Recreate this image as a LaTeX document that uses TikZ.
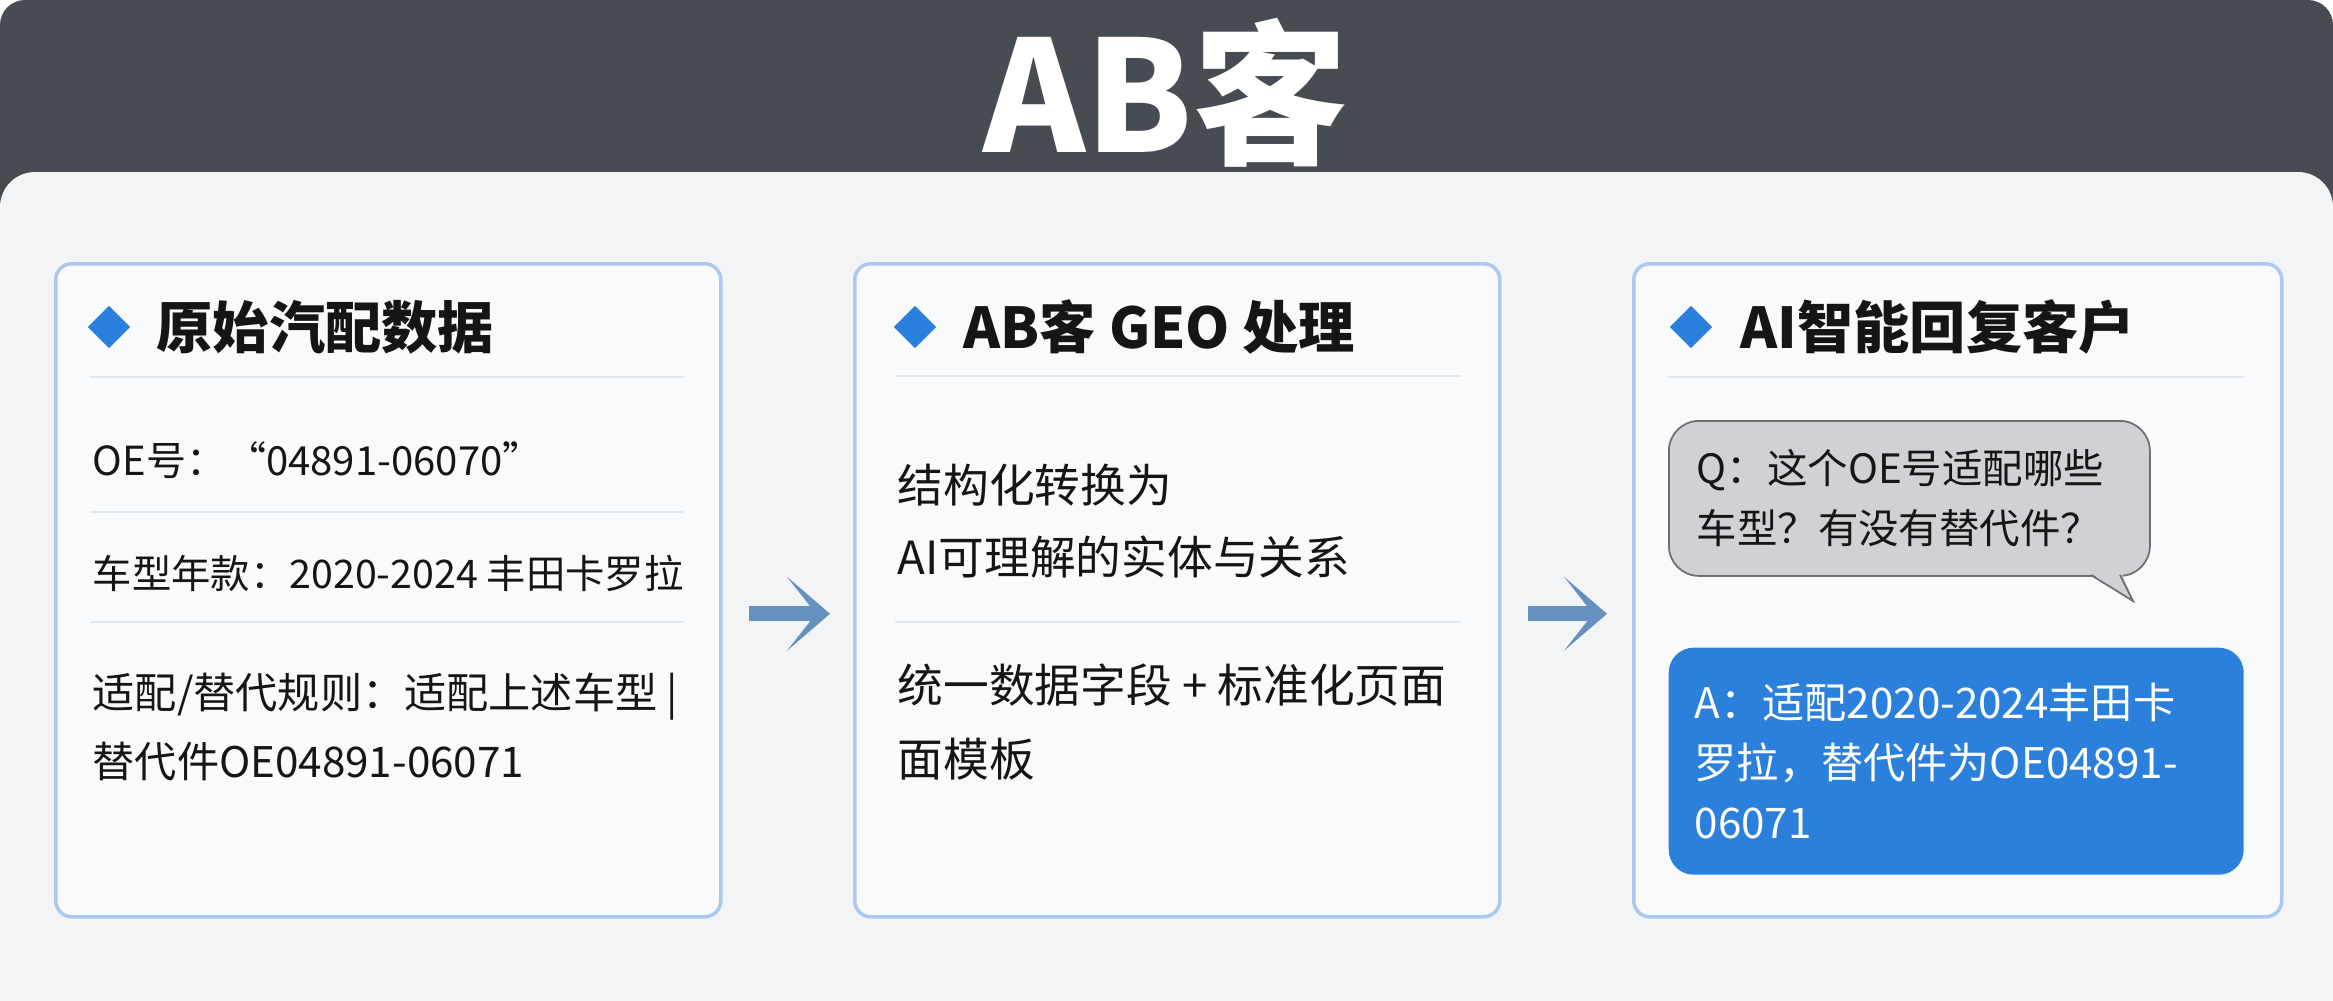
\documentclass[tikz,border=0pt]{standalone}
\usepackage{fontspec}
\setmainfont{Noto Sans CJK SC}
\usetikzlibrary{arrows.meta,positioning,shapes.geometric}

\definecolor{headgray}{HTML}{474B52}
\definecolor{panelgray}{HTML}{F3F4F5}
\definecolor{cardfill}{HTML}{F9FAFB}
\definecolor{cardline}{HTML}{A9C9F0}
\definecolor{seprule}{HTML}{E3E8EF}
\definecolor{diablue}{HTML}{2A7FDC}
\definecolor{inkblack}{HTML}{151515}
\definecolor{qfill}{HTML}{D0D1D4}
\definecolor{qline}{HTML}{6E6E6E}
\definecolor{ablue}{HTML}{2B80DB}
\definecolor{flowblue}{HTML}{6690C0}

\tikzset{
	card/.style={draw=cardline, line width=1pt, fill=cardfill, rounded corners=1.6mm, anchor=north west},
	dia/.style={diamond, fill=diablue, inner sep=0pt, minimum size=4.3mm},
	head/.style={anchor=west, inner sep=0pt, text=inkblack, font=\fontsize{16}{16}\selectfont\bfseries},
	body/.style={anchor=west, inner sep=0pt, text=inkblack, align=left, font=\fontsize{12}{19.6}\selectfont},
	sep/.style={draw=seprule, line width=0.8pt},
	flow/.style={draw=flowblue, line width=4.2pt, -{Stealth[length=4.3mm,width=7.4mm,inset=2.9mm,line width=0pt]}}
}

\begin{document}
\begin{tikzpicture}[x=0.1mm,y=-0.1mm]
	\useasboundingbox (0,0) rectangle (2333,1000);
	\clip (0,0) rectangle (2333,1000);
	% background
	\fill[white] (0,0) rectangle (2333,1000);
	\fill[headgray, rounded corners=2.5mm] (0,0) rectangle (2333,320);
	\fill[panelgray, rounded corners=3.5mm] (0,172) rectangle (2333,1080);
	\node[text=white, font=\fontsize{44}{44}\selectfont\bfseries] (T) at (1166,93) {AB客};
	% cards
	\node[card, minimum width=66.5mm, minimum height=65.3mm] (A) at (54,262) {};
	\node[card, minimum width=64.5mm, minimum height=65.3mm] (B) at (853,262) {};
	\node[card, minimum width=64.8mm, minimum height=65.3mm] (C) at (1632,262) {};
	% headings
	\node[dia] (DA) at (109,327) {};
	\node[head] (HA) at (156,327) {原始汽配数据};
	\node[dia] (DB) at (915,327) {};
	\node[head] (HB) at (963,327) {AB客 GEO 处理};
	\node[dia] (DC) at (1691,327) {};
	\node[head] (HC) at (1740,327) {AI智能回复客户};
	% rules under the headings
	\draw[sep] (90,377) -- (684,377);
	\draw[sep] (90,512) -- (684,512);
	\draw[sep] (90,622) -- (684,622);
	\draw[sep] (895,376) -- (1461,376);
	\draw[sep] (895,622) -- (1461,622);
	\draw[sep] (1668,377) -- (2244,377);
	% raw data
	\node[body, font=\fontsize{11.4}{19.6}\selectfont] (A1) at (92,460) {OE号：“04891-06070”};
	\node[body, font=\fontsize{11.2}{19.6}\selectfont] (A2) at (92,573) {车型年款：2020-2024 丰田卡罗拉};
	\node[body] (A3) at (92,727) {适配/替代规则：适配上述车型 |\\替代件OE04891-06071};
	% processing
	\node[body, font=\fontsize{13}{20.5}\selectfont] (B1) at (897,521) {结构化转换为\\AI可理解的实体与关系};
	\node[body, font=\fontsize{13}{21}\selectfont] (B2) at (897,722) {统一数据字段 + 标准化页面\\面模板};
	% question bubble
	\node[draw=qline, line width=0.5pt, fill=qfill, rounded corners=3mm, anchor=north west,
		minimum width=48.1mm, minimum height=15.5mm, inner xsep=2.6mm, text width=42.5mm,
		align=left, text=inkblack, font=\fontsize{11.5}{17}\selectfont] (Q) at (1668,420)
		{Q：这个OE号适配哪些\\车型？有没有替代件？};
	\fill[qfill] (2089,572) -- (2133,601) -- (2121,572) -- cycle;
	\draw[qline, line width=0.5pt] (2091,575) -- (2133,601) -- (2120,575);
	% answer box
	\node[fill=ablue, rounded corners=2.5mm, anchor=north west,
		minimum width=57.5mm, minimum height=22.7mm, inner xsep=2.6mm, text width=52.3mm,
		align=left, text=white, font=\fontsize{12}{17}\selectfont] (Ans) at (1668,647)
		{A：适配2020-2024丰田卡\\罗拉，替代件为OE04891-\\06071};
	% arrows
	\draw[flow, shorten <=2.6mm, shorten >=2.3mm] ([yshift=-2.35mm]A.east) -- ([yshift=-2.35mm]B.west);
	\draw[flow, shorten <=2.6mm, shorten >=2.5mm] ([yshift=-2.35mm]B.east) -- ([yshift=-2.35mm]C.west);
\end{tikzpicture}
\end{document}
